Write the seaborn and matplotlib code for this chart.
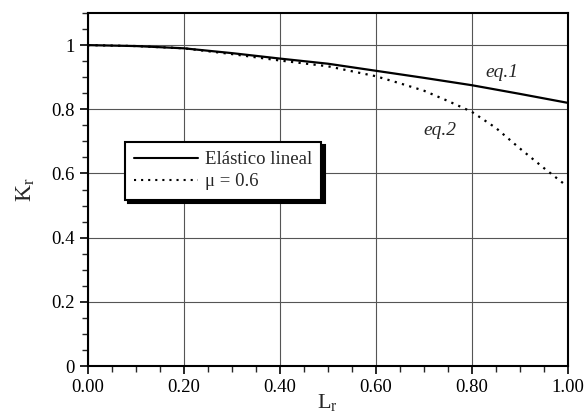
import matplotlib
matplotlib.use("Agg")
import matplotlib.pyplot as plt
import seaborn as sns
import pandas as pd
from matplotlib.ticker import MultipleLocator, FormatStrFormatter, FuncFormatter
from matplotlib.lines import Line2D

# Data
x_elastic = [0.0, 0.1, 0.2, 0.3, 0.4, 0.5, 0.6, 0.7, 0.8, 0.9, 1.0]
k_elastic = [1.0, 0.997, 0.99, 0.975, 0.958, 0.942, 0.920, 0.898, 0.875, 0.848, 0.820]
x_mu = [0.0, 0.1, 0.2, 0.3, 0.4, 0.5, 0.6, 0.65, 0.7, 0.75, 0.8, 0.85, 0.9, 0.95, 0.99]
k_mu = [1.0, 0.997, 0.99, 0.972, 0.952, 0.934, 0.903, 0.881, 0.858, 0.826, 0.792, 0.742, 0.678, 0.617, 0.570]
label_elastic = "Elástico lineal"
label_mu = "μ = 0.6"

sns.set_style("ticks")
plt.rcParams['font.family'] = ['Liberation Serif', 'DejaVu Serif']
plt.rcParams['mathtext.fontset'] = 'stix'

df = pd.concat([
    pd.DataFrame({"Lr": x_elastic, "Kr": k_elastic, "serie": label_elastic}),
    pd.DataFrame({"Lr": x_mu, "Kr": k_mu, "serie": label_mu}),
])

fig = plt.figure(figsize=(5.86, 4.17), dpi=100)
ax = fig.add_axes([0.150, 0.1223, 0.819, 0.8465])

sns.lineplot(data=df, x="Lr", y="Kr", hue="serie", style="serie",
             palette={label_elastic: "black", label_mu: "black"},
             dashes={label_elastic: "", label_mu: (1, 2.4)},
             linewidth=1.6, ax=ax, legend=False)

ax.set_xlim(0, 1.0)
ax.set_ylim(0, 1.1)
ax.xaxis.set_major_locator(MultipleLocator(0.2))
ax.xaxis.set_minor_locator(MultipleLocator(0.05))
ax.yaxis.set_major_locator(MultipleLocator(0.2))
ax.yaxis.set_minor_locator(MultipleLocator(0.05))
ax.xaxis.set_major_formatter(FormatStrFormatter("%.2f"))
ax.yaxis.set_major_formatter(FuncFormatter(lambda v, p: "%g" % round(v, 2)))

ax.grid(True, which="major", color="#555555", linewidth=0.8)
for s in ax.spines.values():
    s.set_linewidth(1.5)
    s.set_color("black")
ax.tick_params(which="major", direction="out", length=6, width=1.2, labelsize=13.5, colors="black")
ax.tick_params(which="minor", direction="out", length=4, width=1.0)

ax.set_xlabel("L$_{\\mathregular{r}}$", fontsize=16, labelpad=-3)
ax.set_ylabel("K$_{\\mathregular{r}}$", fontsize=17, labelpad=10)

ax.text(0.862, 0.916, "eq.1", fontsize=14, style="italic", ha="center", va="center")
ax.text(0.733, 0.735, "eq.2", fontsize=14, style="italic", ha="center", va="center")

handles = [Line2D([], [], color="black", lw=1.5),
           Line2D([], [], color="black", lw=1.5, linestyle=(0, (1, 2.4)))]
leg = ax.legend(handles, [label_elastic, label_mu], loc="upper left",
                bbox_to_anchor=(0.077, 0.635), borderaxespad=0, fontsize=13.5,
                frameon=True, fancybox=False, edgecolor="black", framealpha=1,
                shadow={"color": "black", "alpha": 1, "ox": 2.5, "oy": -2.5},
                handlelength=3.4, handletextpad=0.35, borderpad=0.5,
                labelspacing=0.25)
leg.get_frame().set_linewidth(1.5)

fig.savefig("out.png", dpi=100)
